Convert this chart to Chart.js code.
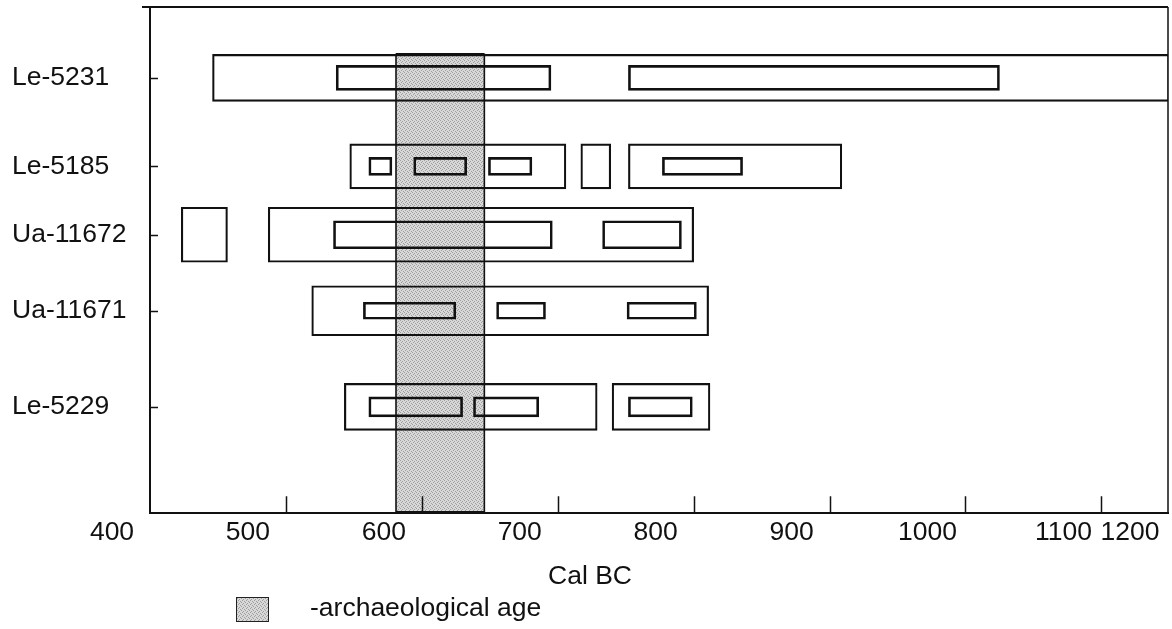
<!DOCTYPE html>
<html>
<head>
<meta charset="utf-8">
<title>Radiocarbon dates, Cal BC</title>
<script src="https://cdn.jsdelivr.net/npm/chart.js@4.4.1/dist/chart.umd.min.js"></script>
<style>
  html, body { margin: 0; padding: 0; background: #fff; }
  #wrap { position: relative; width: 1172px; height: 629px; }
  #chart { display: block; }
  #legend {
    position: absolute; left: 236px; top: 597px; height: 25px;
    display: flex; align-items: center;
    font-family: 'Liberation Sans', Arial, Helvetica, sans-serif;
    font-size: 26.5px; color: #111; white-space: nowrap;
  }
  #legend .swatch {
    width: 33px; height: 25px; box-sizing: border-box;
    border: 1.5px solid #222; margin-right: 41px;
  }
  #legend .text { position: relative; top: -2px; }
</style>
</head>
<body>
<div id="wrap">
  <canvas id="chart" width="1172" height="629"></canvas>
  <div id="legend"></div>
</div>
<script>
// ---- data -------------------------------------------------------------
const samples = ['Le-5231', 'Le-5185', 'Ua-11672', 'Ua-11671', 'Le-5229'];
// vertical order of the samples (0 = top of the frame, 100 = bottom)
const sampleRow = [14, 31.5, 45, 60, 79];

// 2-sigma calibrated ranges per sample, Cal BC
const range2Sigma = [
  [[446, 1150]],
  [[547, 706], [717, 739], [752, 909]],
  [[423, 457], [487, 800]],
  [[519, 811]],
  [[543, 729], [740, 812]]
];
// 1-sigma calibrated ranges per sample, Cal BC
const range1Sigma = [
  [[537, 695], [752, 1025]],
  [[561, 578], [594, 633], [649, 681], [777, 836]],
  [[535, 696], [733, 791]],
  [[557, 625], [655, 691], [751, 802]],
  [[561, 630], [638, 686], [752, 799]]
];

// archaeological dating of the site, Cal BC
const archaeologicalAge = [581, 646];

const xStart = 400;
const xEnd = 1149;           // right edge of the frame
const xTickValues = [400, 500, 600, 700, 800, 900, 1000, 1100];
const xTickLabels = ['400', '500', '600', '700', '800', '900', '1000', '1100', '1200'];

// ---- styling -----------------------------------------------------------
const INK = '#111';
const FONT = "'Liberation Sans', Arial, Helvetica, sans-serif";
const FONT_SIZE = 26.5;
const boxThickness = { outer: [47, 45, 55, 50, 47], inner: [25, 18, 28, 17, 20] };

Chart.defaults.font.family = FONT;
Chart.defaults.font.size = FONT_SIZE;
Chart.defaults.color = INK;

// fine grey stipple used for the archaeological-age band
function stippleTile() {
  const c = document.createElement('canvas');
  c.width = 4; c.height = 4;
  const g = c.getContext('2d');
  g.fillStyle = '#d8d8d8';
  g.fillRect(0, 0, 4, 4);
  g.fillStyle = '#9e9e9e';
  [[0, 0], [2, 1], [1, 2], [3, 3]].forEach(([a, b]) => g.fillRect(a, b, 1, 1));
  return c;
}
const tile = stippleTile();

// ---- datasets: one outline box per calibrated range -----------------------
const datasets = [];
samples.forEach((name, i) => {
  datasets.push({
    label: name + ' 2σ',
    data: range2Sigma[i].map(r => ({ x: r, y: sampleRow[i] })),
    barThickness: boxThickness.outer[i],
    borderWidth: 1.5
  });
  datasets.push({
    label: name + ' 1σ',
    data: range1Sigma[i].map(r => ({ x: r, y: sampleRow[i] })),
    barThickness: boxThickness.inner[i],
    borderWidth: 2
  });
});
datasets.forEach(d => Object.assign(d, {
  backgroundColor: 'rgba(0,0,0,0)',
  borderColor: INK,
  borderSkipped: false,
  grouped: false
}));

// band, frame and inward tick marks
const framePlugin = {
  id: 'frame',
  beforeDatasetsDraw(chart) {
    const { ctx, chartArea, scales: { x, y } } = chart;
    const x0 = x.getPixelForValue(archaeologicalAge[0]);
    const x1 = x.getPixelForValue(archaeologicalAge[1]);
    const top = y.getPixelForValue(sampleRow[0]) - boxThickness.outer[0] / 2;
    const bottom = chartArea.bottom;
    ctx.save();
    ctx.fillStyle = ctx.createPattern(tile, 'repeat');
    ctx.fillRect(x0, top, x1 - x0, bottom - top);
    ctx.strokeStyle = INK;
    ctx.lineWidth = 1.6;
    ctx.strokeRect(x0, top, x1 - x0, bottom - top);
    ctx.lineWidth = 2.5;
    ctx.beginPath();
    ctx.moveTo(x0, top); ctx.lineTo(x1, top);
    ctx.moveTo(x0, bottom - 1); ctx.lineTo(x1, bottom - 1);
    ctx.stroke();
    ctx.restore();
  },
  afterDraw(chart) {
    const { ctx, chartArea, scales: { x, y } } = chart;
    ctx.save();
    ctx.strokeStyle = INK;
    // top and right sides of the frame
    ctx.lineWidth = 2;
    ctx.beginPath();
    ctx.moveTo(chartArea.left - 8, chartArea.top);
    ctx.lineTo(chartArea.right, chartArea.top);
    ctx.stroke();
    ctx.lineWidth = 1.5;
    ctx.beginPath();
    ctx.moveTo(chartArea.right, chartArea.top);
    ctx.lineTo(chartArea.right, chartArea.bottom);
    ctx.stroke();
    // tick marks pointing into the plot
    ctx.lineWidth = 1.5;
    ctx.beginPath();
    x.ticks.forEach(t => {
      if (t.value <= x.min || t.value >= x.max) return;
      const px = Math.round(x.getPixelForValue(t.value)) + 0.5;
      ctx.moveTo(px, chartArea.bottom);
      ctx.lineTo(px, chartArea.bottom - 17);
    });
    y.ticks.forEach(t => {
      const py = Math.round(y.getPixelForValue(t.value)) + 0.5;
      ctx.moveTo(chartArea.left, py);
      ctx.lineTo(chartArea.left + 8, py);
    });
    ctx.stroke();
    ctx.restore();
  }
};

new Chart(document.getElementById('chart'), {
  type: 'bar',
  data: { datasets },
  plugins: [framePlugin],
  options: {
    indexAxis: 'y',
    responsive: false,
    animation: false,
    events: [],
    layout: { padding: { left: 12, right: 4, top: 7, bottom: 0 } },
    scales: {
      x: {
        type: 'linear',
        position: 'bottom',
        offset: false,
        min: xStart,
        max: xEnd,
        grid: { display: true, drawOnChartArea: false, drawTicks: false, offset: false },
        border: { display: true, color: INK, width: 2 },
        afterBuildTicks(scale) {
          scale.ticks = xTickValues.concat([scale.max]).map(v => ({ value: v }));
        },
        afterFit(scale) {
          scale.height = 36;
          scale.paddingLeft = 0;
          scale.paddingRight = 0;
        },
        ticks: {
          autoSkip: false,
          maxRotation: 0,
          padding: 4,
          labelOffset: -38,
          color: INK,
          font: { size: FONT_SIZE },
          callback: (value, index) => xTickLabels[index]
        }
      },
      y: {
        type: 'linear',
        position: 'left',
        offset: false,
        reverse: true,
        min: 0,
        max: 100,
        grid: { display: true, drawOnChartArea: false, drawTicks: false, offset: false },
        border: { display: true, color: INK, width: 2 },
        afterBuildTicks(scale) {
          scale.ticks = sampleRow.map(v => ({ value: v }));
        },
        afterFit(scale) {
          scale.width = 138;
          scale.paddingTop = 0;
          scale.paddingBottom = 0;
        },
        ticks: {
          crossAlign: 'far',
          color: INK,
          font: { size: FONT_SIZE },
          callback: (value, index) => samples[index]
        }
      }
    },
    plugins: {
      legend: { display: false },
      tooltip: { enabled: false },
      title: {
        display: true,
        position: 'bottom',
        text: 'Cal BC',
        color: INK,
        font: { size: FONT_SIZE, weight: 'normal' },
        padding: { top: 12, bottom: 36 }
      }
    }
  }
});

// legend entry for the archaeological-age band
const legendEl = document.getElementById('legend');
const swatch = document.createElement('span');
swatch.className = 'swatch';
swatch.style.backgroundImage = 'url(' + tile.toDataURL() + ')';
const label = document.createElement('span');
label.className = 'text';
label.textContent = '-archaeological age';
legendEl.appendChild(swatch);
legendEl.appendChild(label);
</script>
</body>
</html>
